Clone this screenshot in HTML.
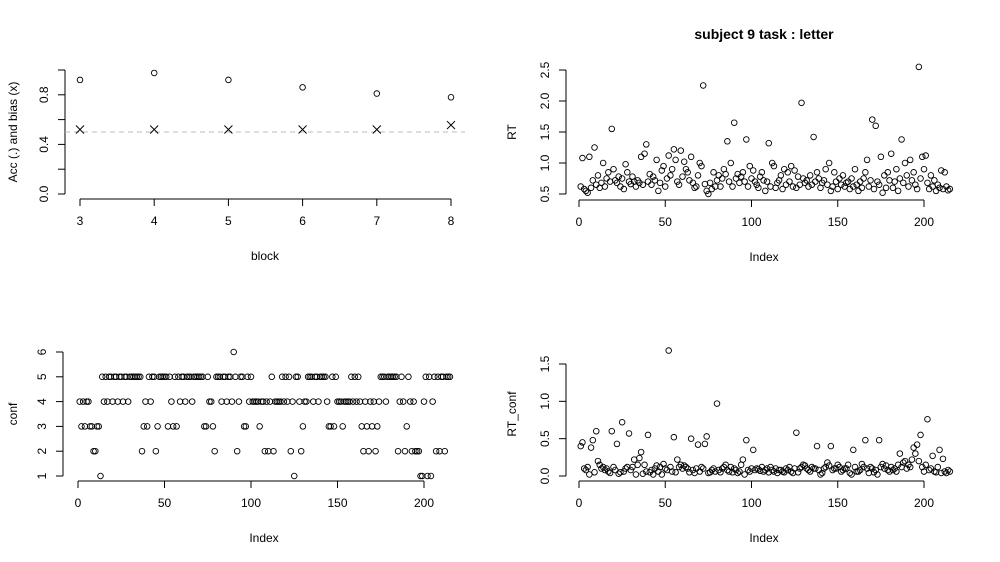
<!DOCTYPE html>
<html><head><meta charset="utf-8"><style>
body{margin:0;background:#fff}
svg{display:block;font-family:"Liberation Sans",Arial,sans-serif;font-size:12px}
</style></head><body>
<svg id="c" width="1000" height="562" viewBox="0 0 1000 562"></svg>
<script>
const blocks=[3,4,5,6,7,8];
const accValues=[0.92,0.976,0.92,0.86,0.81,0.78];
const biasValues=[0.52,0.52,0.52,0.52,0.52,0.556];
const acc_y_ticks=[0,0.2,0.4,0.6,0.8,1.0];
const acc_y_labels=["0.0","","0.4","","0.8",""];
const index_ticks=[0,50,100,150,200];
const rtValues=[0.62,1.08,0.58,0.55,0.52,1.10,0.60,0.72,1.25,0.65,
0.80,0.60,0.68,1.00,0.62,0.75,0.85,0.70,1.55,0.90,
0.72,0.68,0.78,0.62,0.75,0.58,0.98,0.85,0.70,0.66,
0.78,0.70,0.62,0.72,0.68,1.10,0.65,1.15,1.30,0.70,
0.82,0.65,0.78,0.72,1.05,0.55,0.68,0.88,0.95,0.62,
0.75,1.12,0.80,0.90,1.22,1.05,0.70,0.65,1.20,0.78,
1.02,0.90,0.85,0.72,1.10,0.68,0.60,0.62,0.80,1.00,
0.95,2.25,0.66,0.55,0.50,0.68,0.58,0.85,0.62,0.72,
0.80,0.62,0.75,0.90,0.82,1.35,0.70,1.00,0.62,1.65,
0.75,0.82,0.68,0.78,0.85,0.70,1.38,0.62,0.95,0.75,
0.88,0.70,0.65,0.60,0.78,0.85,0.72,0.55,0.70,1.32,
0.62,1.00,0.95,0.60,0.68,0.72,0.80,0.58,0.90,0.65,
0.85,0.70,0.95,0.62,0.88,0.60,0.78,0.65,1.97,0.75,
0.68,0.72,0.62,0.80,0.65,1.42,0.70,0.85,0.75,0.60,
0.68,0.72,0.90,0.65,1.00,0.55,0.62,0.85,0.70,0.58,
0.75,0.65,0.80,0.62,0.68,0.70,0.58,0.75,0.62,0.90,
0.65,0.55,0.70,0.60,0.75,0.85,1.05,0.62,0.72,1.70,
0.58,1.60,0.70,0.65,1.10,0.52,0.80,0.60,0.85,0.72,
1.15,0.60,0.70,0.90,0.55,0.75,1.38,0.68,1.00,0.80,
0.62,1.05,0.72,0.85,0.65,0.58,2.55,0.75,1.10,0.90,
1.12,0.68,0.58,0.80,0.62,0.72,0.55,0.65,0.60,0.88,
0.58,0.85,0.62,0.56,0.58];
const rt_y_ticks=[0.5,1.0,1.5,2.0,2.5];
const confValues=[4,3,4,3,4,4,3,3,2,2,
3,3,1,5,4,5,4,5,5,4,
5,5,4,5,5,4,5,5,4,5,
5,5,5,5,5,5,2,3,4,3,
5,4,5,5,2,3,5,5,5,5,
5,3,5,4,3,5,3,5,4,5,
5,4,5,5,5,4,5,5,5,5,
5,5,3,3,5,4,4,3,2,5,
5,5,4,5,5,4,5,5,4,6,
5,2,4,5,5,3,3,5,4,5,
4,4,4,4,3,4,4,2,4,2,
4,5,2,4,4,4,4,5,4,5,
4,5,2,4,1,5,5,4,2,3,
4,4,5,5,5,4,5,5,4,5,
5,5,5,4,3,3,5,3,5,4,
4,4,3,4,4,4,4,5,4,5,
4,5,4,3,2,4,3,2,4,3,
4,2,3,4,5,5,5,4,5,5,
5,5,5,5,2,4,5,4,2,3,
5,4,2,4,2,2,2,1,1,4,
5,1,5,1,4,5,2,5,2,5,
5,2,5,5,5];
const conf_y_ticks=[1,2,3,4,5,6];
const rtConfValues=[0.40,0.45,0.10,0.08,0.12,0.02,0.38,0.48,0.05,0.60,
0.20,0.15,0.10,0.12,0.08,0.10,0.06,0.04,0.60,0.12,
0.08,0.43,0.03,0.05,0.72,0.06,0.10,0.12,0.57,0.08,
0.12,0.22,0.02,0.15,0.24,0.32,0.03,0.15,0.06,0.55,
0.05,0.08,0.02,0.10,0.14,0.06,0.12,0.02,0.16,0.10,
0.08,1.68,0.12,0.06,0.52,0.05,0.22,0.12,0.15,0.10,
0.14,0.12,0.10,0.05,0.50,0.08,0.04,0.10,0.42,0.06,
0.12,0.10,0.43,0.53,0.04,0.05,0.08,0.10,0.06,0.97,
0.08,0.05,0.10,0.12,0.15,0.08,0.06,0.12,0.05,0.10,
0.08,0.04,0.06,0.15,0.22,0.02,0.48,0.08,0.06,0.10,
0.35,0.08,0.10,0.09,0.07,0.12,0.06,0.08,0.10,0.05,
0.12,0.08,0.06,0.10,0.04,0.08,0.08,0.06,0.05,0.10,
0.08,0.12,0.06,0.04,0.10,0.58,0.05,0.10,0.12,0.15,
0.14,0.10,0.08,0.06,0.12,0.10,0.10,0.40,0.08,0.02,
0.04,0.10,0.12,0.18,0.14,0.40,0.08,0.10,0.10,0.15,
0.12,0.06,0.08,0.10,0.10,0.15,0.04,0.02,0.35,0.12,
0.06,0.06,0.08,0.16,0.12,0.48,0.10,0.04,0.12,0.10,
0.05,0.08,0.02,0.48,0.12,0.16,0.10,0.14,0.08,0.06,
0.12,0.08,0.10,0.06,0.15,0.30,0.12,0.18,0.20,0.10,
0.15,0.12,0.22,0.38,0.30,0.42,0.20,0.55,0.12,0.06,
0.15,0.76,0.08,0.10,0.27,0.06,0.05,0.12,0.35,0.04,
0.23,0.06,0.04,0.08,0.06];
const rtc_y_ticks=[0.0,0.5,1.0,1.5];

const svg=document.getElementById('c');
const NS='http://www.w3.org/2000/svg';
function mk(tag,attrs,parent){const e=document.createElementNS(NS,tag);for(const k in attrs)e.setAttribute(k,attrs[k]);(parent||svg).appendChild(e);return e;}
function lin(d0,d1,r0,r1){return v=>r0+(v-d0)*(r1-r0)/(d1-d0);}
function fmt(v,dec){return v.toFixed(dec);}

function panel(name,o){
  const g=mk('g',{});
  
  
  // y axis
  const ya=mk('g',{},g);
  
  
  const yt=o.yTicks;
  mk('line',{x1:o.yAxisX,x2:o.yAxisX,y1:o.ys(yt[0]),y2:o.ys(yt[yt.length-1]),stroke:'#000'},ya);
  yt.forEach((t,i)=>{
    const y=o.ys(t);
    mk('line',{x1:o.yAxisX-7,x2:o.yAxisX,y1:y,y2:y,stroke:'#000'},ya);
    const lab=o.yLabels?o.yLabels[i]:fmt(t,o.yDec);
    if(lab){const tx=mk('text',{x:o.yAxisX-17,y:y,'text-anchor':'middle',transform:`rotate(-90 ${o.yAxisX-17} ${y})`,fill:'#000'},ya);tx.textContent=lab;
    }
  });
  // x axis
  const xa=mk('g',{},g);
  
  
  const xt=o.xTicks;
  mk('line',{x1:o.xs(xt[0]),x2:o.xs(xt[xt.length-1]),y1:o.xAxisY,y2:o.xAxisY,stroke:'#000'},xa);
  xt.forEach(t=>{
    const x=o.xs(t);
    mk('line',{x1:x,x2:x,y1:o.xAxisY,y2:o.xAxisY+7,stroke:'#000'},xa);
    const tx=mk('text',{x:x,y:o.xAxisY+26,'text-anchor':'middle',fill:'#000'},xa);tx.textContent=String(t);
    
  });
  const xl=mk('text',{x:o.xTitleX,y:o.xAxisY+61,'text-anchor':'middle',fill:'#000'},g);xl.textContent=o.xTitle;
  
  const yl=mk('text',{x:o.yTitleX,y:o.yTitleY,'text-anchor':'middle',transform:`rotate(-90 ${o.yTitleX} ${o.yTitleY})`,fill:'#000'},g);yl.textContent=o.yTitle;
  
  return g;
}
function pts(g,vals,xs,ys,name){
  vals.forEach((v,i)=>{
    const c=mk('circle',{cx:xs(i+1),cy:ys(v),r:2.8,fill:'none',stroke:'#000','stroke-width':0.9},g);
    
    
  });
}

// Panel 1
{const xs=lin(3,8,80,451),ys=lin(0,1,194,70);
const g=panel('accuracy-bias-panel',{xs,ys,yAxisX:65,xAxisY:199,xTicks:blocks,yTicks:acc_y_ticks,yLabels:acc_y_labels,xTitle:'block',xTitleX:265,yTitle:'Acc (.) and bias (x)',yTitleX:17,yTitleY:132});
const dl=mk('line',{x1:65,x2:465,y1:ys(0.5),y2:ys(0.5),stroke:'#bebebe','stroke-dasharray':'5,4'},g);

accValues.forEach((v,i)=>{const c=mk('circle',{cx:xs(blocks[i]),cy:ys(v),r:2.8,fill:'none',stroke:'#000','stroke-width':0.9},g);
});
biasValues.forEach((v,i)=>{const x=xs(blocks[i]),y=ys(v);const p=mk('path',{d:`M${x-4} ${y-4}L${x+4} ${y+4}M${x-4} ${y+4}L${x+4} ${y-4}`,stroke:'#000','stroke-width':1},g);
});}

// Panel 2
{const xs=lin(0,200,579,924),ys=lin(0.5,2.5,194,70);
const g=panel('rt-panel',{xs,ys,yAxisX:566,xAxisY:200,xTicks:index_ticks,yTicks:rt_y_ticks,yDec:1,xTitle:'Index',xTitleX:764,yTitle:'RT',yTitleX:516,yTitleY:132});
pts(g,rtValues,xs,ys,'rt-point');
const t=mk('text',{x:764,y:39,'text-anchor':'middle','font-weight':'bold','font-size':'14px',fill:'#000'});t.textContent='subject 9 task : letter';
}

// Panel 3
{const xs=lin(0,200,78,424),ys=lin(1,6,476,352);
const g=panel('confidence-panel',{xs,ys,yAxisX:63,xAxisY:481,xTicks:index_ticks,yTicks:conf_y_ticks,yDec:0,xTitle:'Index',xTitleX:264,yTitle:'conf',yTitleX:17,yTitleY:414});
pts(g,confValues,xs,ys,'conf-point');}

// Panel 4
{const xs=lin(0,200,579,924),ys=lin(0,1.5,476,364);
const g=panel('rt-conf-panel',{xs,ys,yAxisX:566,xAxisY:481,xTicks:index_ticks,yTicks:rtc_y_ticks,yDec:1,xTitle:'Index',xTitleX:764,yTitle:'RT_conf',yTitleX:516,yTitleY:414});
pts(g,rtConfValues,xs,ys,'rt-conf-point');}
</script>
</body></html>
